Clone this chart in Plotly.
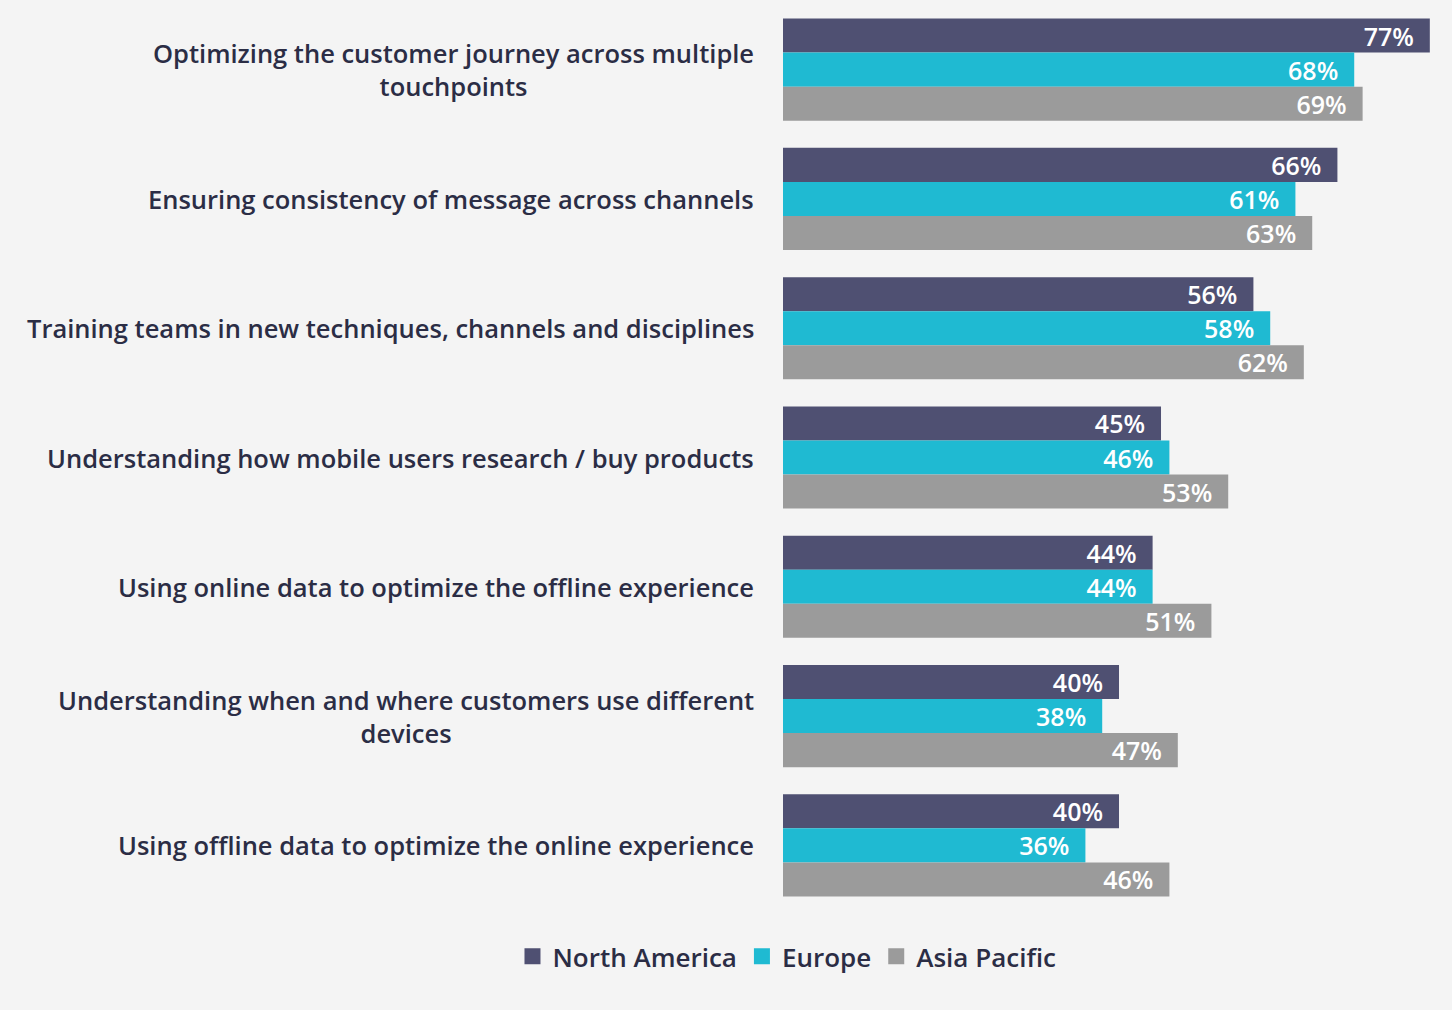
import plotly.graph_objects as go

categories = [
    "Optimizing the customer journey across multiple<br>touchpoints",
    "Ensuring consistency of message across channels",
    "Training teams in new techniques, channels and disciplines",
    "Understanding how mobile users research / buy products",
    "Using online data to optimize the offline experience",
    "Understanding when and where customers use different<br>devices",
    "Using offline data to optimize the online experience",
]
north_america = [77, 66, 56, 45, 44, 40, 40]
europe = [68, 61, 58, 46, 44, 38, 36]
asia_pacific = [69, 63, 62, 53, 51, 47, 46]

series = [
    ("North America", north_america, "#4f5072"),
    ("Europe", europe, "#1fbad2"),
    ("Asia Pacific", asia_pacific, "#9b9b9b"),
]

FONT = "Open Sans"
TEXT_COLOR = "#2b2d45"
BG = "#f4f4f4"

fig = go.Figure()
for name, vals, color in series:
    fig.add_trace(go.Bar(
        y=categories, x=vals, name=name, orientation="h",
        marker=dict(color=color, line=dict(width=0)),
        text=[f"{v}%\u00a0\u00a0" for v in vals],
        textposition="inside", insidetextanchor="end",
        textfont=dict(family=FONT, size=25, color="white", weight=600),
        constraintext="none",
        cliponaxis=False,
        showlegend=False,
    ))

# legend entries with larger square swatches
for name, vals, color in series:
    fig.add_trace(go.Scatter(
        x=[None], y=[None], mode="markers", name=name,
        marker=dict(symbol="square", size=18, color=color),
        showlegend=True,
    ))

for c in categories:
    fig.add_annotation(
        x=0, y=c, xref="x", yref="y", text=c, showarrow=False,
        xanchor="right", yanchor="middle", align="center", xshift=-27,
        font=dict(family=FONT, size=25.5, color=TEXT_COLOR, weight=600),
    )

fig.update_layout(
    width=1452, height=1010,
    paper_bgcolor=BG, plot_bgcolor=BG,
    barmode="group", bargap=0.21, bargroupgap=0,
    margin=dict(l=783, r=0, t=5, b=100),
    font=dict(family=FONT, color=TEXT_COLOR),
    xaxis=dict(range=[0, 79.64], visible=False, showgrid=False, zeroline=False),
    yaxis=dict(type="category", categoryorder="array", categoryarray=categories,
               range=[6.5, -0.5], showticklabels=False, showgrid=False,
               zeroline=False, ticks=""),
    legend=dict(orientation="h", xref="container", yref="container",
                x=0.542, xanchor="center", y=0.053, yanchor="middle",
                font=dict(family=FONT, size=26, color=TEXT_COLOR, weight=600),
                bgcolor="rgba(0,0,0,0)", itemwidth=30, traceorder="normal"),
    showlegend=True,
)

fig.write_html(
    "out.html",
    config={"displayModeBar": False},
    post_script="document.body.style.margin='0';document.body.style.background='#f4f4f4';",
)
